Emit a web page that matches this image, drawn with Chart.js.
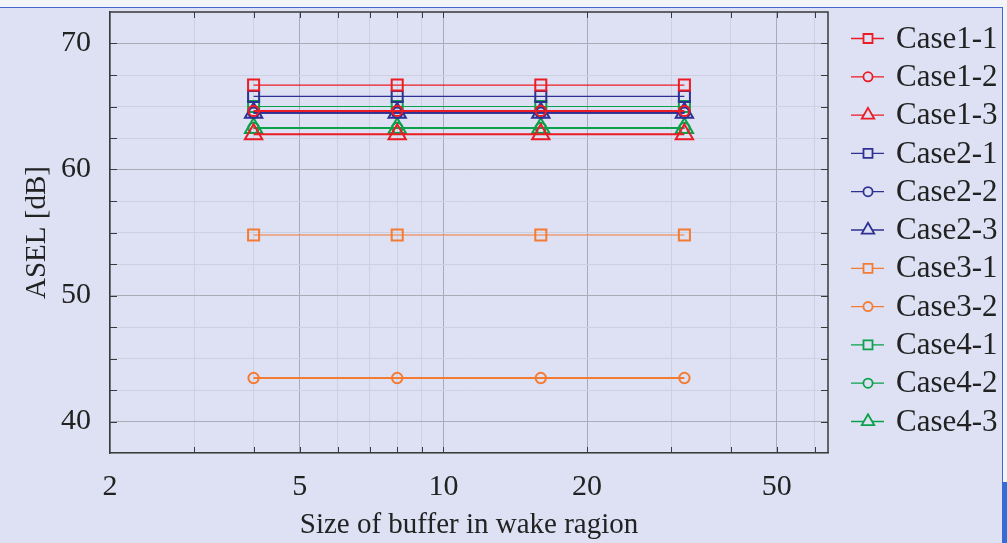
<!DOCTYPE html>
<html><head><meta charset="utf-8">
<script src="https://cdn.jsdelivr.net/npm/chart.js@4/dist/chart.umd.min.js"></script>
<style>
html,body{margin:0;padding:0;background:#fff;}
#wrap{position:relative;width:1007px;height:543px;overflow:hidden;background:#f3f4f8;}
#bg{position:absolute;left:0;top:7px;width:1003px;height:536px;background:#dde1f3;border-top:1.5px solid #4566cf;border-right:1.5px solid #4566cf;box-sizing:border-box;}
#strip{position:absolute;left:1003px;top:482px;width:4px;height:61px;background:#2f6fd6;}
canvas{position:absolute;left:0;top:0;}
</style></head><body>
<div id="wrap"><div id="bg"></div><div id="strip"></div><canvas id="c" width="1007" height="543"></canvas></div>
<script>
// ---- data ----
const bufferSizes = [4, 8, 16, 32];
const seriesNames = ['Case1-1','Case1-2','Case1-3','Case2-1','Case2-2','Case2-3','Case3-1','Case3-2','Case4-1','Case4-2','Case4-3'];
const case1_1 = [66.7, 66.7, 66.7, 66.7];
const case1_2 = [64.65, 64.65, 64.65, 64.65];
const case1_3 = [62.8, 62.8, 62.8, 62.8];
const case2_1 = [65.8, 65.8, 65.8, 65.8];
const case2_2 = [64.5, 64.5, 64.5, 64.5];
const case2_3 = [64.5, 64.5, 64.5, 64.5];
const case3_1 = [54.8, 54.8, 54.8, 54.8];
const case3_2 = [43.45, 43.45, 43.45, 43.45];
const case4_1 = [65.0, 65.0, 65.0, 65.0];
const case4_2 = [63.3, 63.3, 63.3, 63.3];
const case4_3 = [63.3, 63.3, 63.3, 63.3];
const seriesValues = [case1_1, case1_2, case1_3, case2_1, case2_2, case2_3, case3_1, case3_2, case4_1, case4_2, case4_3];
const xTickValues = [2,3,4,5,6,7,8,9,10,20,30,40,50,60];
const xTickLabels = [2,5,10,20,50];
const yTickLabels = [40,50,60,70];

// ---- styles ----
const RED='#ec1c24', BLUE='#2e3192', ORANGE='#f47b32', GREEN='#0ba14b';
const colors = [RED,RED,RED,BLUE,BLUE,BLUE,ORANGE,ORANGE,GREEN,GREEN,GREEN];
const markers = ['rect','circle','triangle','rect','circle','triangle','rect','circle','rect','circle','triangle'];
const lineWidths = {rect:1.2, circle:2, triangle:2};
const pointRadii = {rect:7.8, circle:5.2, triangle:10};
const FONT = "'Liberation Serif', 'DejaVu Serif', serif";
const TEXT = '#222';
const BG = '#dde1f3';
const MAJOR = '#a9abb7', MINOR = '#ccd0e3';

const datasets = seriesNames.map((name,i)=>({
  label:name,
  data: bufferSizes.map((x,j)=>({x:x, y:seriesValues[i][j]})),
  borderColor: colors[i],
  backgroundColor: 'rgba(0,0,0,0)',
  borderWidth: lineWidths[markers[i]],
  pointStyle: markers[i],
  pointRadius: pointRadii[markers[i]],
  pointBorderWidth: 2,
  pointBorderColor: colors[i],
  pointBackgroundColor: 'rgba(0,0,0,0)',
  tension: 0,
  fill: false
}));

function drawMarker(c, style, x, y, r){
  c.beginPath();
  if(style==='rect'){ c.rect(x-r, y-r, 2*r, 2*r); }
  else if(style==='circle'){ c.arc(x, y, r, 0, Math.PI*2); }
  else {
    for(let k=0;k<3;k++){
      const a = k*2*Math.PI/3;
      const px = x + Math.sin(a)*r, py = y - Math.cos(a)*r;
      if(k===0) c.moveTo(px,py); else c.lineTo(px,py);
    }
    c.closePath();
  }
  c.fillStyle = BG; c.fill();
  c.stroke();
}

const boxPlugin = {
  id:'box',
  beforeDatasetsDraw(chart){
    const c = chart.ctx, a = chart.chartArea;
    const xs = chart.scales.x, ys = chart.scales.y;
    c.save();
    c.strokeStyle = '#3a3a3a';
    c.lineWidth = 1.5;
    c.beginPath();
    c.moveTo(a.left, a.top); c.lineTo(a.right, a.top); c.lineTo(a.right, a.bottom);
    c.stroke();
    c.lineWidth = 1;
    c.beginPath();
    xTickValues.forEach(v=>{
      if(v<=2) return;
      const px = Math.round(xs.getPixelForValue(v))+0.5;
      c.moveTo(px, a.bottom); c.lineTo(px, a.bottom-6);
      c.moveTo(px, a.top); c.lineTo(px, a.top+6);
    });
    for(let v=40; v<=70; v+=2.5){
      const py = Math.round(ys.getPixelForValue(v))+0.5;
      c.moveTo(a.left, py); c.lineTo(a.left+7, py);
      c.moveTo(a.right, py); c.lineTo(a.right-7, py);
    }
    c.stroke();
    c.restore();
  }
};

const legendPlugin = {
  id:'customLegend',
  afterDraw(chart){
    const c = chart.ctx, a = chart.chartArea;
    const x0 = a.right + 23, x1 = a.right + 56, mx = a.right + 40, tx = a.right + 68;
    const y0 = 38.5, dy = 38.3;
    c.save();
    chart.data.datasets.forEach((ds,i)=>{
      const y = y0 + i*dy;
      c.strokeStyle = ds.borderColor;
      c.lineWidth = 1.3;
      c.beginPath(); c.moveTo(x0,y); c.lineTo(x1,y); c.stroke();
      c.lineWidth = 1.8;
      const st = ds.pointStyle;
      drawMarker(c, st, mx, y, st==='rect'?4.5:(st==='circle'?4.6:7.2));
      c.fillStyle = TEXT;
      c.font = "31px " + FONT;
      c.textBaseline = 'middle';
      c.textAlign = 'left';
      c.fillText(ds.label, tx, y+1);
    });
    c.restore();
  }
};

new Chart(document.getElementById('c'), {
  type:'line',
  data:{datasets:datasets},
  options:{
    responsive:false,
    animation:false,
    devicePixelRatio:1,
    events:[],
    layout:{padding:{top:9,right:179,left:0,bottom:0}},
    plugins:{legend:{display:false}, tooltip:{enabled:false}},
    scales:{
      x:{
        type:'logarithmic', min:2, max:64,
        afterBuildTicks:(s)=>{ s.ticks = xTickValues.map(v=>({value:v})); },
        afterFit:(s)=>{ s.height = 90; s.paddingLeft = 0; s.paddingRight = 0; },
        ticks:{autoSkip:false, maxRotation:0, padding:16, color:TEXT, font:{family:FONT, size:30},
          callback:(v)=> xTickLabels.includes(Number(v)) ? String(v) : ''},
        grid:{drawTicks:false, lineWidth:1, color:(ctx)=> (ctx.tick && xTickLabels.includes(ctx.tick.value)) ? MAJOR : MINOR},
        border:{color:'#3a3a3a', width:1.5},
        title:{display:true, text:'Size of buffer in wake ragion', color:TEXT, font:{family:FONT, size:29}, padding:{top:1,bottom:0}}
      },
      y:{
        min:37.5, max:72.5,
        afterFit:(s)=>{ s.width = 110; s.paddingTop = 0; s.paddingBottom = 0; },
        ticks:{stepSize:2.5, autoSkip:false, padding:19, color:TEXT, font:{family:FONT, size:30},
          callback:(v)=> yTickLabels.includes(Number(v)) ? String(v) : ''},
        grid:{drawTicks:false, lineWidth:1, color:(ctx)=> (ctx.tick && yTickLabels.includes(ctx.tick.value)) ? MAJOR : MINOR},
        border:{color:'#3a3a3a', width:1.5},
        title:{display:true, text:'ASEL [dB]', color:TEXT, font:{family:FONT, size:29}, padding:{top:20,bottom:0}}
      }
    }
  },
  plugins:[boxPlugin, legendPlugin]
});
</script>
</body></html>
